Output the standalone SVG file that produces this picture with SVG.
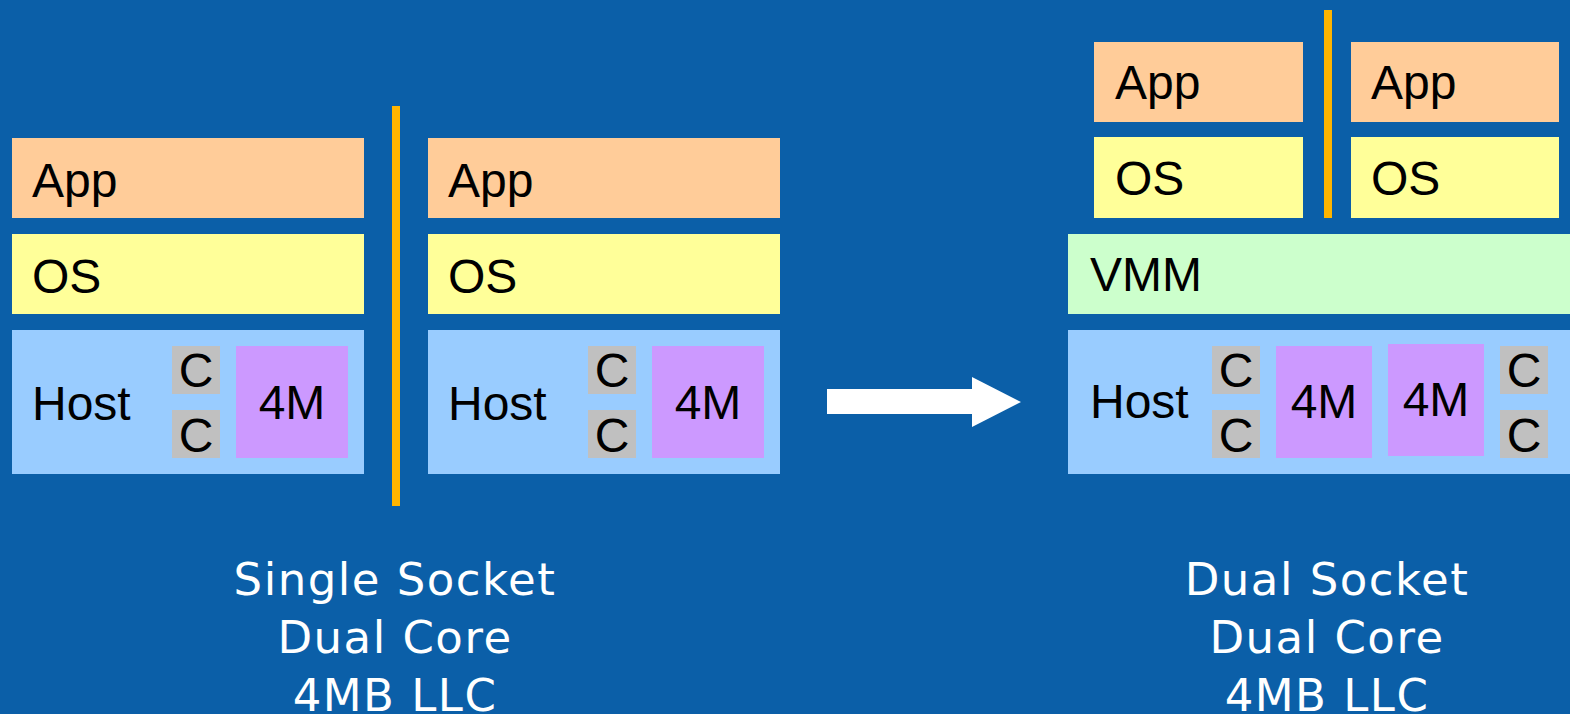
<svg xmlns="http://www.w3.org/2000/svg" width="1570" height="714" viewBox="0 0 1570 714">
<style>
.app{fill:#FFCC99}
.os{fill:#FFFF99}
.vmm{fill:#CCFFCC}
.host{fill:#99CCFF}
.core{fill:#C0C0C0}
.cache{fill:#CC99FF}
.sep{fill:#FFB400}
.t{font-family:"Liberation Sans",Arial,sans-serif;font-size:48px;fill:#000}
.tc{font-family:"Liberation Sans",Arial,sans-serif;font-size:48px;fill:#000;text-anchor:middle}
.cap{font-family:"DejaVu Sans",Verdana,sans-serif;font-size:45px;fill:#fff;text-anchor:middle;letter-spacing:1.5px}
</style>
<rect width="1570" height="714" fill="#0B5FA8"/>

<g id="left-vm1">
<rect class="app" x="12" y="138" width="352" height="80"/><text class="t" x="32" y="197">App</text>
<rect class="os" x="12" y="234" width="352" height="80"/><text class="t" x="32" y="293">OS</text>
<rect class="host" x="12" y="330" width="352" height="144"/><text class="t" x="32" y="420">Host</text>
<rect class="core" x="172" y="346" width="48" height="48"/><text class="tc" x="196" y="387">C</text>
<rect class="core" x="172" y="410" width="48" height="48"/><text class="tc" x="196" y="452">C</text>
<rect class="cache" x="236" y="346" width="112" height="112"/><text class="tc" x="292" y="419">4M</text>
</g>
<rect id="left-sep" class="sep" x="392" y="106" width="8" height="400"/>
<g id="left-vm2">
<rect class="app" x="428" y="138" width="352" height="80"/><text class="t" x="448" y="197">App</text>
<rect class="os" x="428" y="234" width="352" height="80"/><text class="t" x="448" y="293">OS</text>
<rect class="host" x="428" y="330" width="352" height="144"/><text class="t" x="448" y="420">Host</text>
<rect class="core" x="588" y="346" width="48" height="48"/><text class="tc" x="612" y="387">C</text>
<rect class="core" x="588" y="410" width="48" height="48"/><text class="tc" x="612" y="452">C</text>
<rect class="cache" x="652" y="346" width="112" height="112"/><text class="tc" x="708" y="419">4M</text>
</g>

<g id="connectors">
<polygon points="827,389 972,389 972,377 1021,402 972,427 972,414 827,414" fill="#fff"/>
</g>

<g id="right-vm1">
<rect class="app" x="1094" y="42" width="209" height="80"/><text class="t" x="1115" y="99">App</text>
<rect class="os" x="1094" y="137" width="209" height="81"/><text class="t" x="1115" y="195">OS</text>
</g>
<rect id="right-sep" class="sep" x="1324" y="10" width="8" height="208"/>
<g id="right-vm2">
<rect class="app" x="1351" y="42" width="208" height="80"/><text class="t" x="1371" y="99">App</text>
<rect class="os" x="1351" y="137" width="208" height="81"/><text class="t" x="1371" y="195">OS</text>
</g>
<g id="vmm">
<rect class="vmm" x="1068" y="234" width="510" height="80"/><text class="t" x="1090" y="291">VMM</text>
</g>
<g id="right-host">
<rect class="host" x="1068" y="330" width="510" height="144"/><text class="t" x="1090" y="418">Host</text>
<rect class="core" x="1212" y="346" width="48" height="48"/><text class="tc" x="1236" y="387">C</text>
<rect class="core" x="1212" y="410" width="48" height="48"/><text class="tc" x="1236" y="452">C</text>
<rect class="cache" x="1276" y="346" width="96" height="112"/><text class="tc" x="1324" y="418">4M</text>
<rect class="cache" x="1388" y="344" width="96" height="112"/><text class="tc" x="1436" y="416">4M</text>
<rect class="core" x="1500" y="346" width="48" height="48"/><text class="tc" x="1524" y="387">C</text>
<rect class="core" x="1500" y="410" width="48" height="48"/><text class="tc" x="1524" y="452">C</text>
</g>

<g id="caption-left">
<text class="cap" x="395" y="595">Single Socket</text>
<text class="cap" x="395" y="653">Dual Core</text>
<text class="cap" x="395" y="711">4MB LLC</text>
</g>
<g id="caption-right">
<text class="cap" x="1327" y="595">Dual Socket</text>
<text class="cap" x="1327" y="653">Dual Core</text>
<text class="cap" x="1327" y="711">4MB LLC</text>
</g>
</svg>
